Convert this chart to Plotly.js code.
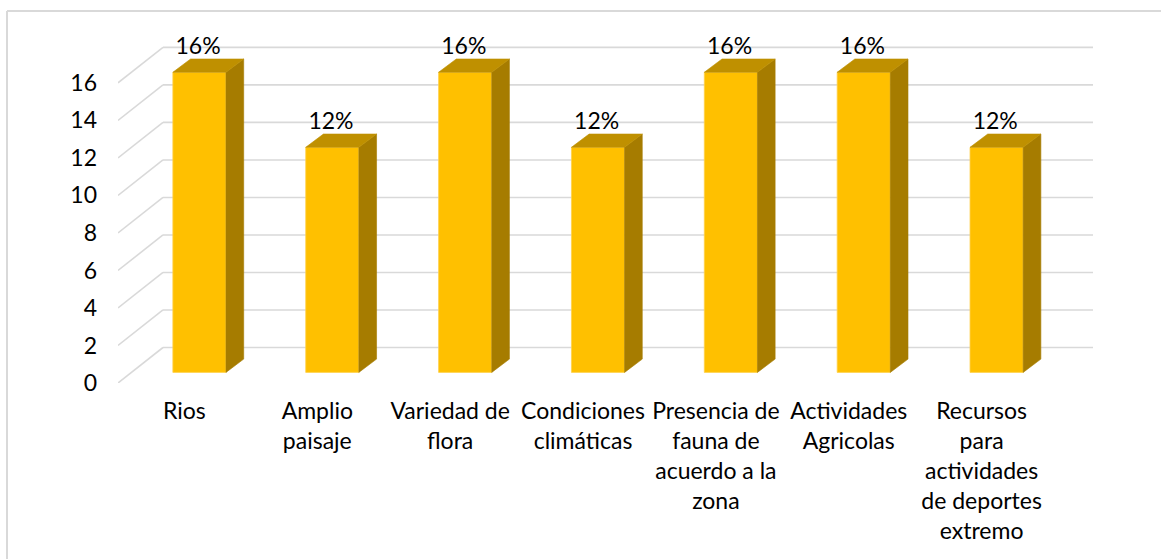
<!DOCTYPE html>
<html>
<head>
<meta charset="utf-8">
<script src="https://cdn.plot.ly/plotly-3.0.1.min.js"></script>
<style>html,body{margin:0;padding:0;background:#fff;}#chart{width:1161px;height:559px;}</style>
</head>
<body>
<div id="chart"></div>
<script>
// ---- data ----
const categories = ["Rios", "Amplio<br>paisaje", "Variedad de<br>flora", "Condiciones<br>climáticas",
  "Presencia de<br>fauna de<br>acuerdo a la<br>zona", "Actividades<br>Agricolas",
  "Recursos<br>para<br>actividades<br>de deportes<br>extremo"];
const values = [16, 12, 16, 12, 16, 16, 12];
const percentLabels = ["16%", "12%", "16%", "12%", "16%", "16%", "12%"];
const yTicks = [0, 2, 4, 6, 8, 10, 12, 14, 16];

// ---- geometry (pseudo 3D) ----
const W = 1161, H = 559;
const L = 118, R = 68, T = 36, B = 176;
const pw = W - L - R, ph = H - T - B;
const yMax = 18.5;
const xMin = -0.5, xMax = xMin + pw / 132.86;
const pxX = pw / (xMax - xMin), pxY = ph / yMax;
const wallDx = 45 / pxX, wallDy = 35.5 / pxY;     // back wall offset
const barShift = 15 / pxX, barBase = 10.6 / pxY;  // bar front plane offset
const barW = 0.4, depDx = 17.7 / pxX, depDy = 13.3 / pxY;
const font = "Lato, Calibri, sans-serif";

const xs = categories.map((c, i) => i);
const shapes = [];
yTicks.forEach(v => {
  shapes.push({type: "line", layer: "below", xref: "x", yref: "y", x0: xMin, y0: v, x1: xMin + wallDx, y1: v + wallDy,
    line: {color: "#D9D9D9", width: 1.6}});
  shapes.push({type: "line", layer: "below", xref: "x", yref: "y", x0: xMin + wallDx, y0: v + wallDy, x1: xMax, y1: v + wallDy,
    line: {color: "#D9D9D9", width: 1.6}});
});
// chart border (top and left)
const px2paperX = p => (p - L) / pw, px2paperY = p => (H - B - p) / ph;
shapes.push({type: "line", xref: "paper", yref: "paper", x0: px2paperX(7), y0: px2paperY(11), x1: px2paperX(W + 5), y1: px2paperY(11),
  line: {color: "#D9D9D9", width: 2}});
shapes.push({type: "line", xref: "paper", yref: "paper", x0: px2paperX(7), y0: px2paperY(11), x1: px2paperX(7), y1: px2paperY(H + 5),
  line: {color: "#D9D9D9", width: 2}});

const traces = [];
traces.push({
  type: "bar", x: xs.map(i => i + barShift), y: values, base: barBase, width: barW,
  marker: {color: "#FFC000", line: {color: "#FFD24D", width: 0.8}},
  hoverinfo: "skip", showlegend: false
});
values.forEach((v, i) => {
  const c = i + barShift, xl = c - barW / 2, xr = c + barW / 2, top = barBase + v;
  traces.push({type: "scatter", mode: "lines", fill: "toself", fillcolor: "#A67C00",
    x: [xr, xr, xr + depDx, xr + depDx, xr], y: [barBase, top, top + depDy, barBase + depDy, barBase],
    line: {width: 0.6, color: "#A67C00"}, hoverinfo: "skip", showlegend: false});
  traces.push({type: "scatter", mode: "lines", fill: "toself", fillcolor: "#BF9000",
    x: [xl, xr, xr + depDx, xl + depDx, xl], y: [top, top, top + depDy, top + depDy, top],
    line: {width: 0.6, color: "#BF9000"}, hoverinfo: "skip", showlegend: false});
});
traces.push({
  type: "scatter", mode: "text", x: xs.map(i => i + barShift - 0.01), y: values.map(v => barBase + v + depDy + 0.6),
  text: percentLabels, textposition: "middle center", cliponaxis: false,
  textfont: {family: font, size: 23, color: "#000"}, hoverinfo: "skip", showlegend: false
});

const layout = {
  width: W, height: H, margin: {l: L, r: R, t: T, b: B, pad: 0},
  paper_bgcolor: "#fff", plot_bgcolor: "rgba(0,0,0,0)",
  showlegend: false, shapes: shapes,
  xaxis: {range: [xMin, xMax], tickvals: xs, ticktext: categories, showgrid: false, zeroline: false,
    showline: false, ticks: "", ticklabelstandoff: 12, tickangle: 0,
    tickfont: {family: font, size: 23, color: "#000"}},
  yaxis: {range: [0, yMax], tickvals: yTicks, ticktext: yTicks.map(String), showgrid: false, zeroline: false,
    showline: false, ticks: "", ticklabelstandoff: 20,
    tickfont: {family: font, size: 23, color: "#000"}}
};
Plotly.newPlot("chart", traces, layout, {staticPlot: true, displayModeBar: false});
</script>
</body>
</html>
